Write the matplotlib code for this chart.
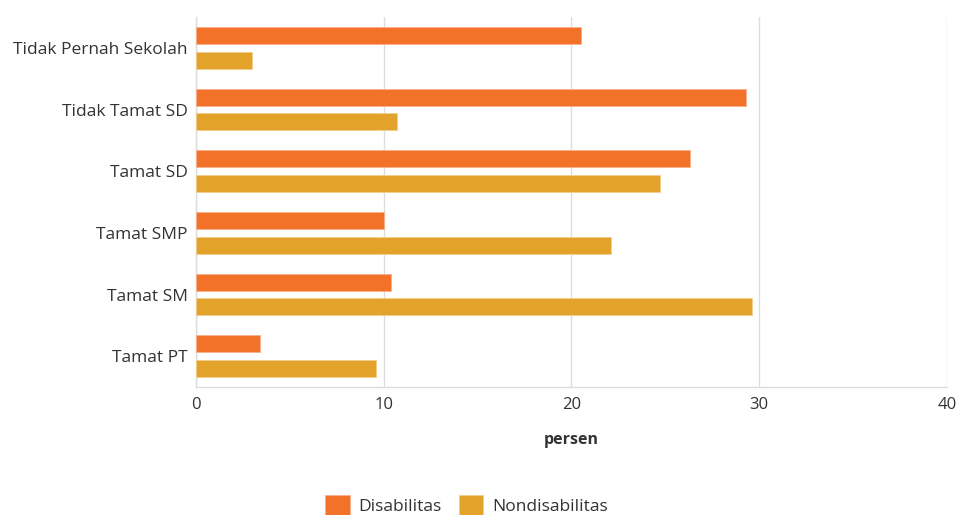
import matplotlib.pyplot as plt
import numpy as np

plt.rcParams["font.family"] = ["Open Sans", "DejaVu Sans"]

categories = [
    "Tidak Pernah Sekolah",
    "Tidak Tamat SD",
    "Tamat SD",
    "Tamat SMP",
    "Tamat SM",
    "Tamat PT",
]
disabilitas = [20.5, 29.3, 26.3, 10.0, 10.4, 3.4]
nondisabilitas = [3.0, 10.7, 24.7, 22.1, 29.6, 9.6]
series_names = ["Disabilitas", "Nondisabilitas"]
colors = ["#F27229", "#E3A32B"]
x_ticks = [0, 10, 20, 30, 40]

fig = plt.figure(figsize=(9.58, 5.15), dpi=100)
ax = fig.add_axes([0.2046, 0.2485, 0.7839, 0.7185])

y = np.arange(len(categories))
h = 0.275
off = 0.2
ax.barh(y - off, disabilitas, height=h, color=colors[0],
        edgecolor="#F8B08A", linewidth=0.6, zorder=3, label=series_names[0])
ax.barh(y + off, nondisabilitas, height=h, color=colors[1],
        edgecolor="#F0CF8E", linewidth=0.6, zorder=3, label=series_names[1])

ax.set_ylim(len(categories) - 0.5, -0.5)
ax.set_xlim(0, 40)
ax.set_yticks(y)
ax.set_yticklabels(categories, fontsize=12.5, color="#333333")
ax.set_xticks(x_ticks)
ax.set_xticklabels([str(t) for t in x_ticks], fontsize=12, color="#333333")
ax.tick_params(axis="y", length=0, pad=6)
ax.tick_params(axis="x", length=0, pad=7)

ax.grid(axis="x", color="#DDDDDD", linewidth=1, zorder=0)
for side in ["top", "right"]:
    ax.spines[side].set_visible(False)
for side in ["left", "bottom"]:
    ax.spines[side].set_color("#DDDDDD")
    ax.spines[side].set_linewidth(1)

ax.set_xlabel("persen", fontsize=11.5, fontweight="bold", color="#333333", labelpad=14)

leg = fig.legend(loc="lower center", bbox_to_anchor=(0.487, -0.02), ncol=2,
                 frameon=False, fontsize=12.5, handlelength=1.4, handleheight=1.4,
                 columnspacing=1.0, handletextpad=0.5, borderaxespad=0.2)
for t in leg.get_texts():
    t.set_color("#333333")

plt.savefig("out.png", dpi=100)
plt.close()
